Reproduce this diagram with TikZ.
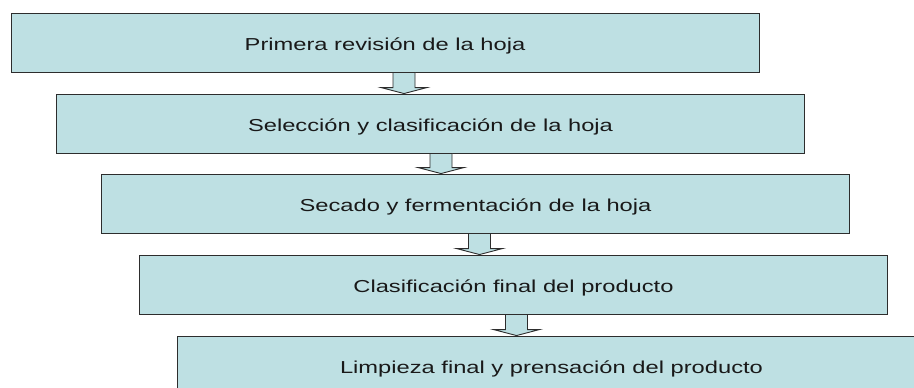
\documentclass[tikz,border=0pt]{standalone}
\usepackage{fontspec}
\setmainfont[FakeStretch=1.37]{Liberation Sans}
\usetikzlibrary{calc}
\definecolor{boxfill}{RGB}{190,224,227}
\definecolor{boxline}{RGB}{45,45,45}
\newcommand\flowarrow[3]{%
  \coordinate (fs) at (#1.south -| #3,0);
  \coordinate (ft) at (#2.north -| #3,0);
  \draw[arrowshape] ($(fs)+(-11,0)$) -- ($(fs)+(11,0)$) -- ($(ft)+(11,-6)$) -- ($(ft)+(23,-6)$) -- (ft) -- ($(ft)+(-23,-6)$) -- ($(ft)+(-11,-6)$) -- cycle;
}
\begin{document}
\begin{tikzpicture}[x=1pt,y=-1pt,
  stepbox/.style={draw=boxline, fill=boxfill, line width=0.9pt, minimum width=748pt, minimum height=59pt,
    inner sep=0pt, text height=16.4pt, text depth=0pt, font=\fontsize{17.3}{20}\selectfont, text=black!90},
  arrowshape/.style={draw=boxline, fill=boxfill, line width=0.9pt, line join=miter}]
\useasboundingbox (0,0) rectangle (914,388);
\clip (0,0) rectangle (914,388);
\node[stepbox] (b1) at (385,42.5) {Primera revisión de la hoja};
\node[stepbox] (b2) at (430.5,123.5) {Selección y clasificación de la hoja};
\node[stepbox] (b3) at (475.5,203.5) {Secado y fermentación de la hoja};
\node[stepbox] (b4) at (513.5,284.5) {Clasificación final del producto};
\node[stepbox] (b5) at (551.5,365.5) {Limpieza final y prensación del producto};
\flowarrow{b1}{b2}{404}
\flowarrow{b2}{b3}{441}
\flowarrow{b3}{b4}{479.5}
\flowarrow{b4}{b5}{516.5}
\end{tikzpicture}
\end{document}
